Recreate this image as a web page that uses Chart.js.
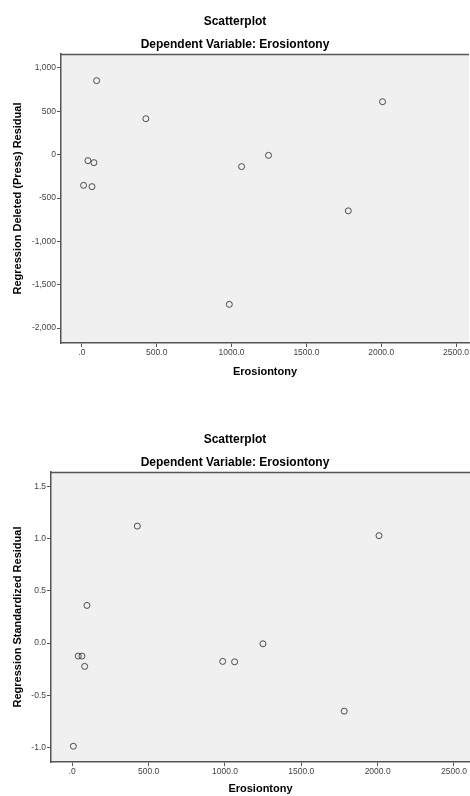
<!DOCTYPE html>
<html>
<head>
<meta charset="utf-8">
<script src="https://cdn.jsdelivr.net/npm/chart.js@4/dist/chart.umd.min.js"></script>
<style>
  html, body { margin: 0; padding: 0; background: #ffffff; }
  #wrap { position: relative; width: 470px; height: 796px; overflow: hidden; }
  canvas { position: absolute; left: 0; display: block; }
  #c1 { top: 0; }
  #c2 { top: 418px; }
</style>
</head>
<body>
<div id="wrap">
  <canvas id="c1" width="470" height="418"></canvas>
  <canvas id="c2" width="470" height="378"></canvas>
</div>
<script>
// ---- Data ----
const xPress = [11, 40, 67, 80, 98, 427, 985, 1067, 1247, 1780, 2009];
const yPress = [-354, -69, -369, -92, 854, 415, -1727, -138, -8, -648, 611];

const xStd = [7, 39, 63, 81, 96, 426, 985, 1063, 1249, 1781, 2009];
const yStd = [-0.99, -0.125, -0.125, -0.224, 0.361, 1.122, -0.176, -0.18, -0.007, -0.653, 1.03];

const xTickValues = [0, 500, 1000, 1500, 2000, 2500];
const xTickLabels = ['.0', '500.0', '1000.0', '1500.0', '2000.0', '2500.0'];

const yPressTickValues = [1000, 500, 0, -500, -1000, -1500, -2000];
const yPressTickLabels = ['1,000', '500', '0', '-500', '-1,000', '-1,500', '-2,000'];

const yStdTickValues = [1.5, 1.0, 0.5, 0.0, -0.5, -1.0];
const yStdTickLabels = ['1.5', '1.0', '0.5', '0.0', '-0.5', '-1.0'];

const titleText = 'Scatterplot';
const subtitleText = 'Dependent Variable: Erosiontony';
const xTitle = 'Erosiontony';
const yPressTitle = 'Regression Deleted (Press) Residual';
const yStdTitle = 'Regression Standardized Residual';

// ---- Styling ----
const FONT = "'Liberation Sans', Arial, sans-serif";
const AXIS_COLOR = '#555555';
const TICK_TEXT = '#444444';

const plotBg = {
  id: 'plotBg',
  beforeDraw(chart) {
    const a = chart.chartArea, ctx = chart.ctx;
    ctx.save();
    ctx.fillStyle = '#f0f0f0';
    ctx.fillRect(a.left, a.top, a.right - a.left, a.bottom - a.top);
    ctx.restore();
  },
  afterDraw(chart) {
    const a = chart.chartArea, ctx = chart.ctx;
    ctx.save();
    ctx.strokeStyle = AXIS_COLOR;
    ctx.lineWidth = 1.5;
    ctx.beginPath();
    ctx.moveTo(a.left, a.top + 0.5);
    ctx.lineTo(a.right, a.top + 0.5);
    ctx.stroke();
    ctx.restore();
  }
};

function makeChart(id, xs, ys, cfg) {
  const pts = xs.map((x, i) => ({ x: x, y: ys[i] }));
  return new Chart(document.getElementById(id), {
    type: 'scatter',
    data: {
      datasets: [{
        data: pts,
        pointRadius: 3,
        pointHoverRadius: 3,
        pointBorderWidth: 1,
        pointBorderColor: '#4a4a4a',
        pointBackgroundColor: 'rgba(0,0,0,0)'
      }]
    },
    options: {
      responsive: false,
      animation: false,
      devicePixelRatio: 1,
      layout: { autoPadding: false, padding: { left: 0, right: 0, top: 0, bottom: 0 } },
      plugins: {
        legend: { display: false },
        tooltip: { enabled: false },
        title: {
          display: true, text: titleText, color: '#000',
          font: { family: FONT, size: 12, weight: 'bold' },
          padding: { top: 14, bottom: 9.4 }
        },
        subtitle: {
          display: true, text: subtitleText, color: '#000',
          font: { family: FONT, size: 12, weight: 'bold' },
          padding: { top: 0, bottom: 1.8 }
        }
      },
      scales: {
        x: {
          type: 'linear', position: 'bottom',
          min: cfg.xMin, max: cfg.xMax,
          afterBuildTicks: s => { s.ticks = xTickValues.map(v => ({ value: v })); },
          afterFit: s => { s.height = cfg.xHeight; },
          ticks: {
            autoSkip: false, maxRotation: 0, padding: 1, color: TICK_TEXT,
            font: { family: FONT, size: 8.5 },
            callback: (v) => { const i = xTickValues.indexOf(v); return i >= 0 ? xTickLabels[i] : ''; }
          },
          grid: { drawOnChartArea: false, drawTicks: true, tickLength: 4, color: AXIS_COLOR, lineWidth: 1 },
          border: { display: true, color: AXIS_COLOR, width: 1.5 },
          title: {
            display: true, text: xTitle, color: '#000',
            font: { family: FONT, size: 11, weight: 'bold' },
            padding: { top: 0, bottom: cfg.xTitlePad }
          }
        },
        y: {
          type: 'linear', position: 'left',
          min: cfg.yMin, max: cfg.yMax,
          afterBuildTicks: s => { s.ticks = cfg.yVals.map(v => ({ value: v })); },
          afterFit: s => { s.width = cfg.yWidth; },
          ticks: {
            autoSkip: false, padding: 1, color: TICK_TEXT,
            font: { family: FONT, size: 8.5 },
            callback: (v) => { const i = cfg.yVals.indexOf(v); return i >= 0 ? cfg.yLabels[i] : ''; }
          },
          grid: { drawOnChartArea: false, drawTicks: true, tickLength: 4, color: AXIS_COLOR, lineWidth: 1 },
          border: { display: true, color: AXIS_COLOR, width: 1.5 },
          title: {
            display: true, text: cfg.yTitle, color: '#000',
            font: { family: FONT, size: 11, weight: 'bold' },
            padding: { top: 11.4, bottom: 0 }
          }
        }
      }
    },
    plugins: [plotBg]
  });
}

makeChart('c1', xPress, yPress, {
  xMin: -140, xMax: 2587, yMin: -2173, yMax: 1161.5,
  xHeight: 75, yWidth: 61, xTitlePad: 39.4,
  yVals: yPressTickValues, yLabels: yPressTickLabels, yTitle: yPressTitle
});

makeChart('c2', xStd, yStd, {
  xMin: -139.5, xMax: 2605, yMin: -1.141, yMax: 1.641,
  xHeight: 34, yWidth: 51, xTitlePad: 0,
  yVals: yStdTickValues, yLabels: yStdTickLabels, yTitle: yStdTitle
});
</script>
</body>
</html>
